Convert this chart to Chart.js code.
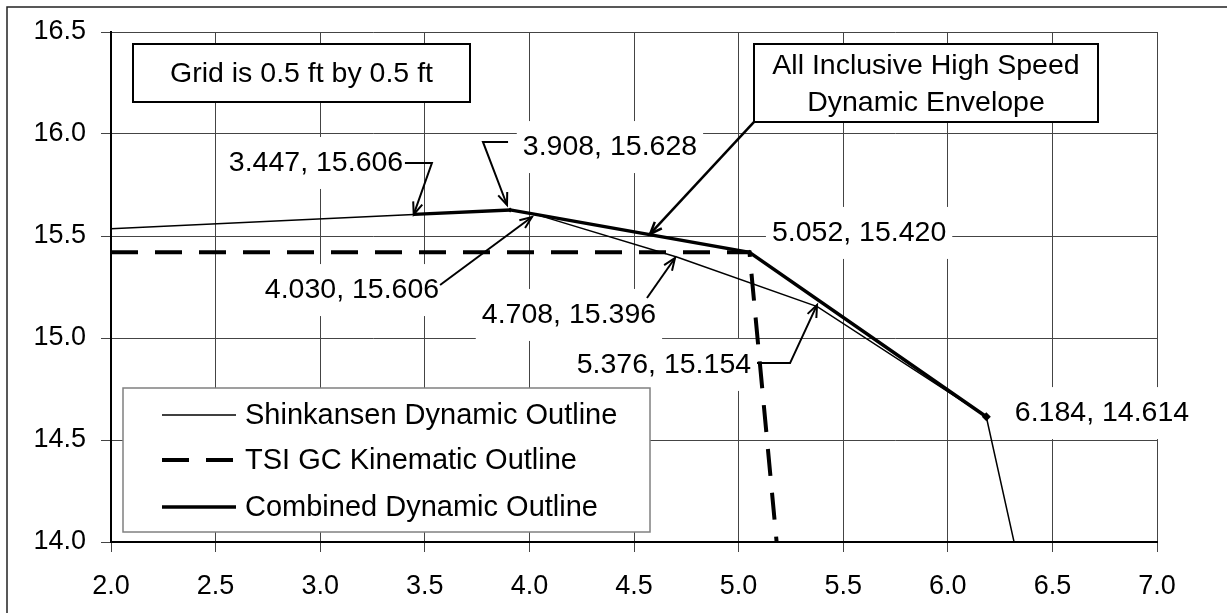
<!DOCTYPE html>
<html>
<head>
<meta charset="utf-8">
<script src="https://cdn.jsdelivr.net/npm/chart.js@4.4.0/dist/chart.umd.min.js"></script>
<style>
  html, body { margin: 0; padding: 0; background: #fff; }
  canvas { display: block; background: #fff; }
</style>
</head>
<body>
<canvas id="chart" width="1227" height="613"></canvas>
<script>
// axis ticks
const xTicks = [2.0, 2.5, 3.0, 3.5, 4.0, 4.5, 5.0, 5.5, 6.0, 6.5, 7.0];
const yTicks = [14.0, 14.5, 15.0, 15.5, 16.0, 16.5];

// series
const seriesNames = ['Shinkansen Dynamic Outline', 'TSI GC Kinematic Outline', 'Combined Dynamic Outline'];
const shinkansenX = [2.0, 3.447, 3.908, 4.030, 4.708, 5.376, 6.184, 6.36];
const shinkansenY = [15.535, 15.606, 15.628, 15.606, 15.396, 15.154, 14.614, 13.8];
const tsiX = [2.0, 5.052, 5.2];
const tsiY = [15.42, 15.42, 13.8];
const combinedX = [3.447, 3.908, 4.030, 5.052, 6.184];
const combinedY = [15.606, 15.628, 15.606, 15.420, 14.614];

const FONT = "'Liberation Sans', Arial, sans-serif";
const toPoints = (xs, ys) => xs.map((x, i) => ({ x: x, y: ys[i] }));

// callout labels: text, where the label sits, leader path (data units)
const notes = [
    { text: '3.447, 15.606', at: [2.980, 15.858], path: [[3.405, 15.858], [3.534, 15.858], [3.447, 15.606]] },
    { text: '3.908, 15.628', at: [4.385, 15.936], path: [[3.898, 15.961], [3.778, 15.961], [3.893, 15.652]] },
    { text: '4.030, 15.606', at: [3.152, 15.235], path: [[3.573, 15.260], [4.012, 15.593]] },
    { text: '4.708, 15.396', at: [4.189, 15.113], path: [[4.562, 15.196], [4.696, 15.392]] },
    { text: '5.376, 15.154', at: [4.643, 14.868], path: [[5.088, 14.877], [5.246, 14.877], [5.375, 15.162]] },
    { text: '5.052, 15.420', at: [5.576, 15.515] },
    { text: '6.184, 14.614', at: [6.737, 14.632] }
];
const envelopeArrow = [[5.074, 16.059], [4.577, 15.510]];

function arrowHead(ctx, x0, y0, x1, y1) {
    const a = Math.atan2(y1 - y0, x1 - x0);
    const len = 13, spread = 0.38;
    ctx.beginPath();
    ctx.moveTo(x1 - len * Math.cos(a - spread), y1 - len * Math.sin(a - spread));
    ctx.lineTo(x1, y1);
    ctx.lineTo(x1 - len * Math.cos(a + spread), y1 - len * Math.sin(a + spread));
    ctx.stroke();
}

const calloutPlugin = {
    id: 'callouts',
    beforeDatasetsDraw(chart) {
        const ctx = chart.ctx, sx = chart.scales.x, sy = chart.scales.y;
        ctx.save();
        ctx.font = '28.5px ' + FONT;
        ctx.fillStyle = '#fff';
        notes.forEach(n => {
            const cx = sx.getPixelForValue(n.at[0]), cy = sy.getPixelForValue(n.at[1]);
            const w = ctx.measureText(n.text).width + 12;
            ctx.fillRect(cx - w / 2, cy - 26, w, 52);
        });
        ctx.restore();
    },
    afterDatasetsDraw(chart) {
        const ctx = chart.ctx, sx = chart.scales.x, sy = chart.scales.y;
        const P = p => [sx.getPixelForValue(p[0]), sy.getPixelForValue(p[1])];
        ctx.save();
        ctx.font = '28.5px ' + FONT;
        ctx.fillStyle = '#000';
        ctx.textAlign = 'center';
        ctx.textBaseline = 'middle';
        ctx.strokeStyle = '#000';
        ctx.lineWidth = 2;
        notes.forEach(n => {
            const [cx, cy] = P(n.at);
            ctx.fillText(n.text, cx, cy);
            if (n.path) {
                const pts = n.path.map(P);
                ctx.beginPath();
                pts.forEach((p, i) => i ? ctx.lineTo(p[0], p[1]) : ctx.moveTo(p[0], p[1]));
                ctx.stroke();
                const a = pts[pts.length - 2], b = pts[pts.length - 1];
                arrowHead(ctx, a[0], a[1], b[0], b[1]);
            }
        });

        // text boxes
        ctx.lineWidth = 2;
        ctx.fillStyle = '#fff';
        ctx.fillRect(133, 44, 337, 58);
        ctx.strokeRect(133, 44, 337, 58);
        ctx.fillRect(754, 44, 344, 78);
        ctx.strokeRect(754, 44, 344, 78);
        ctx.fillStyle = '#000';
        ctx.fillText('Grid is 0.5 ft by 0.5 ft', 301.5, 74);
        ctx.fillText('All Inclusive High Speed', 926, 66);
        ctx.fillText('Dynamic Envelope', 926, 103);

        const e0 = P(envelopeArrow[0]), e1 = P(envelopeArrow[1]);
        ctx.lineWidth = 2.5;
        ctx.beginPath();
        ctx.moveTo(e0[0], e0[1]);
        ctx.lineTo(e1[0], e1[1]);
        ctx.stroke();
        arrowHead(ctx, e0[0], e0[1], e1[0], e1[1]);

        // legend
        ctx.fillStyle = '#fff';
        ctx.fillRect(123, 388, 527, 144);
        ctx.strokeStyle = '#808080';
        ctx.lineWidth = 1.5;
        ctx.strokeRect(123, 388, 527, 144);
        const rows = [415, 460, 507];
        const styles = [
            { w: 1.5, dash: [] },
            { w: 4, dash: [27, 17] },
            { w: 3.5, dash: [] }
        ];
        ctx.strokeStyle = '#000';
        ctx.textAlign = 'left';
        ctx.font = '29px ' + FONT;
        ctx.fillStyle = '#000';
        seriesNames.forEach((name, i) => {
            ctx.lineWidth = styles[i].w;
            ctx.setLineDash(styles[i].dash);
            ctx.beginPath();
            ctx.moveTo(162, rows[i]);
            ctx.lineTo(236, rows[i]);
            ctx.stroke();
            ctx.setLineDash([]);
            ctx.fillText(name, 245, rows[i] + 1);
        });

        // outer frame
        ctx.strokeStyle = '#222';
        ctx.lineWidth = 1.5;
        ctx.strokeRect(7, 7, 1300, 700);
        ctx.restore();
    }
};

new Chart(document.getElementById('chart'), {
    type: 'scatter',
    data: {
        datasets: [
            {
                label: seriesNames[0],
                data: toPoints(shinkansenX, shinkansenY),
                showLine: true,
                borderColor: '#000',
                borderWidth: 1.5,
                pointRadius: 0
            },
            {
                label: seriesNames[1],
                data: toPoints(tsiX, tsiY),
                showLine: true,
                borderColor: '#000',
                borderWidth: 4,
                borderDash: [27, 17],
                pointRadius: 0
            },
            {
                label: seriesNames[2],
                data: toPoints(combinedX, combinedY),
                showLine: true,
                borderColor: '#000',
                borderWidth: 3.5,
                backgroundColor: '#000',
                pointStyle: 'rectRot',
                pointRadius: [0, 2.5, 0, 2.5, 4.5],
                pointBorderWidth: 0
            }
        ]
    },
    options: {
        responsive: false,
        devicePixelRatio: 1,
        animation: false,
        layout: { padding: { left: 0, top: 32, right: 70, bottom: 0 } },
        plugins: { legend: { display: false }, tooltip: { enabled: false } },
        scales: {
            x: {
                type: 'linear',
                min: 2,
                max: 7,
                afterBuildTicks: s => { s.ticks = xTicks.map(v => ({ value: v })); },
                afterFit: s => { s.height = 71; },
                grid: { color: '#444', lineWidth: 1, tickLength: 10 },
                border: { color: '#000', width: 2 },
                ticks: {
                    font: { family: FONT, size: 27 },
                    color: '#000',
                    padding: 18,
                    maxRotation: 0,
                    autoSkip: false,
                    callback: v => v.toFixed(1)
                }
            },
            y: {
                type: 'linear',
                min: 14,
                max: 16.5,
                afterBuildTicks: s => { s.ticks = yTicks.map(v => ({ value: v })); },
                afterFit: s => { s.width = 111; },
                grid: { color: '#444', lineWidth: 1, tickLength: 10 },
                border: { color: '#000', width: 2 },
                ticks: {
                    font: { family: FONT, size: 27 },
                    color: '#000',
                    padding: 15,
                    autoSkip: false,
                    callback: v => v.toFixed(1)
                }
            }
        }
    },
    plugins: [calloutPlugin]
});
</script>
</body>
</html>
